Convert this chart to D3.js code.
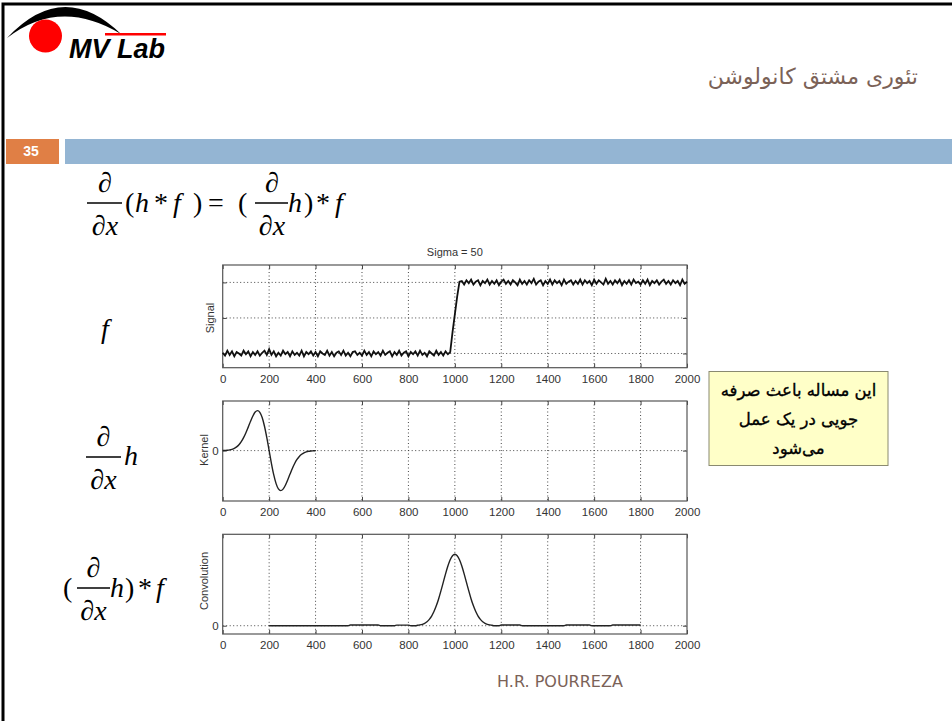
<!DOCTYPE html>
<html><head><meta charset="utf-8">
<script src="https://cdn.jsdelivr.net/npm/d3@7"></script>
<style>
html,body{margin:0;padding:0;background:#fff;}
svg{display:block;}
</style></head>
<body>
<svg id="c" width="952" height="721"></svg>
<script>
// ---------------- DATA ----------------
const xTicks = [0,200,400,600,800,1000,1200,1400,1600,1800,2000];
const chartTitle = "Sigma = 50";
const yLabels = ["Signal","Kernel","Convolution"];

// Signal f sampled every 10 units (0..2000): noisy step at ~1000
const signalValues = [
 0.01,-0.03,0.04,-0.02,0.03,-0.04,0.02,0.00,-0.03,0.04,
 -0.01,0.03,-0.04,0.02,-0.02,0.03,-0.03,0.01,0.04,-0.02,
 0.06,-0.02,0.03,-0.04,0.01,-0.03,0.04,-0.01,0.02,-0.04,
 0.03,-0.02,0.01,-0.03,0.04,-0.04,0.02,-0.01,0.03,-0.03,
 0.02,-0.04,0.03,0.00,-0.02,0.04,-0.03,0.02,-0.04,0.01,
 0.03,-0.02,0.04,-0.03,0.01,-0.04,0.02,0.03,-0.02,0.01,
 -0.03,0.04,-0.02,0.02,-0.04,0.03,-0.01,0.02,-0.03,0.04,
 -0.02,0.01,0.03,-0.04,0.02,-0.02,0.04,-0.03,0.01,0.03,
 -0.04,0.02,-0.01,0.03,-0.03,0.04,-0.02,0.01,-0.04,0.03,
 0.00,-0.03,0.04,-0.02,0.02,-0.03,0.03,-0.01,
 0.02,0.30,0.55,0.80,1.01,
 1.02,0.97,1.03,0.99,1.04,0.97,1.01,1.03,0.96,1.02,
 0.99,1.04,0.97,1.02,0.98,1.03,0.96,1.01,1.04,0.98,
 1.02,0.97,1.03,1.00,0.96,1.04,0.98,1.02,0.97,1.03,
 0.99,1.05,0.97,1.01,1.03,0.96,1.02,0.98,1.04,0.97,
 1.03,0.99,1.02,0.96,1.04,0.98,1.01,1.03,0.97,1.02,
 0.98,1.04,0.97,1.03,0.99,1.02,0.96,1.04,0.98,1.03,
 1.00,0.97,1.05,0.98,1.02,0.97,1.03,0.99,1.04,0.96,
 1.02,0.98,1.03,0.97,1.04,0.99,1.01,0.97,1.03,0.98,
 1.04,0.96,1.02,0.99,1.03,0.97,1.01,1.04,0.98,1.02,
 0.97,1.03,0.99,1.02,0.96,1.04,0.98,1.01
];
// Kernel d/dx h sampled every 10 units (0..400)
const kernelValues = [
 0.002,0.005,0.009,0.017,0.032,0.055,0.092,0.146,0.222,0.323,
 0.446,0.587,0.733,0.866,0.963,1.000,0.958,0.826,0.609,0.323,
 0,-0.323,-0.609,-0.826,-0.958,-1.000,-0.963,-0.866,-0.733,-0.587,
 -0.446,-0.323,-0.222,-0.146,-0.092,-0.055,-0.032,-0.017,-0.009,-0.005,-0.002
];
// Convolution (x, value) points, 200..1800
const convX = [200,540,550,670,680,740,750,800,810,830,
 840,850,860,870,880,890,900,910,920,930,940,950,960,970,980,990,
 1000,1010,1020,1030,1040,1050,1060,1070,1080,1090,1100,1110,1120,1130,1140,1150,1160,
 1170,1190,1200,1280,1290,1470,1480,1580,1590,1670,1680,1800];
const convY = [0,0,0.01,0.01,0,0,0.008,0.008,0,0,
 0.006,0.011,0.020,0.034,0.056,0.089,0.135,0.198,0.278,0.375,0.487,0.607,0.726,0.835,0.923,0.980,
 1.000,0.980,0.923,0.835,0.726,0.607,0.487,0.375,0.278,0.198,0.135,0.089,0.056,0.034,0.020,0.011,0.006,
 0,0,0.01,0.01,0,0,0.01,0.01,0,0,0.01,0.01];

const titleText = "تئوری مشتق کانولوشن";
const noteLines = ["این مساله باعث صرفه","جویی در یک عمل","می‌شود"];
const slideNumber = "35";
const footerText = "H.R. POURREZA";
const logoText = "MV Lab";

// ---------------- DRAW ----------------
const svg = d3.select("#c");

// slide frame
svg.append("rect").attr("x",3).attr("y",4).attr("width",952).attr("height",720)
  .attr("fill","none").attr("stroke","#000").attr("stroke-width",3);

// logo
const logo = svg.append("g");
logo.append("path").attr("d","M7,38 Q63,-22 121,34 Q60,-3 7,38 Z").attr("fill","#000");
logo.append("rect").attr("x",105).attr("y",33).attr("width",61).attr("height",2.5).attr("fill","#f00");
logo.append("circle").attr("cx",45.5).attr("cy",36).attr("r",16.5).attr("fill","#f00");
logo.append("text").attr("x",69).attr("y",58).text(logoText)
  .attr("font-family","Liberation Sans, Arial, sans-serif").attr("font-weight","bold")
  .attr("font-style","italic").attr("font-size",27).attr("fill","#000");

// title (Persian)
svg.append("text").attr("x",918).attr("y",84).attr("text-anchor","end")
  .attr("font-family","DejaVu Sans, sans-serif").attr("font-size",22)
  .attr("fill","#7b6257").text(titleText);

// slide number bar
svg.append("rect").attr("x",6).attr("y",139).attr("width",53).attr("height",25).attr("fill","#e07f45");
svg.append("rect").attr("x",65).attr("y",139).attr("width",887).attr("height",25).attr("fill","#94b5d3");
svg.append("text").attr("x",31).attr("y",156).attr("text-anchor","middle")
  .attr("font-family","Liberation Sans Narrow, Liberation Sans, sans-serif").attr("font-weight","bold")
  .attr("font-size",14).attr("fill","#fff").text(slideNumber);

// equations
const eqG = svg.append("g").attr("font-family","Liberation Serif, Times New Roman, serif")
  .attr("font-size",28).attr("fill","#000");
function glyph(t,x,y,it,anchor){
  eqG.append("text").attr("x",x).attr("y",y).attr("text-anchor",anchor||"start")
    .attr("font-style",it?"italic":"normal").text(t);
}
function frac(cx,x1,x2,ly){
  glyph("∂",cx,ly-11,false,"middle");
  eqG.append("line").attr("x1",x1).attr("x2",x2).attr("y1",ly).attr("y2",ly)
    .attr("stroke","#000").attr("stroke-width",1.4);
  const t = eqG.append("text").attr("x",cx).attr("y",ly+32).attr("text-anchor","middle");
  t.append("tspan").text("∂");
  t.append("tspan").attr("font-style","italic").text("x");
}
// top equation
frac(105,87,122,203);
glyph("(",125,212); glyph("h",135,212,true); glyph("*",154,212); glyph("f",173,212,true); glyph(")",193,212);
glyph("=",208,212); glyph("(",238,212);
frac(272,255,288,203);
glyph("h",288,212,true); glyph(")",304,212); glyph("*",316,212); glyph("f",335,212,true);
// f
glyph("f",101,338,true);
// d/dx h
frac(103.5,86,121,457);
glyph("h",124,465,true);
// (d/dx h)*f
glyph("(",63,597);
frac(93.5,77,110,588);
glyph("h",110,597,true); glyph(")",125,597); glyph("*",138,597); glyph("f",156,597,true);

// ---------------- CHARTS ----------------
const x = d3.scaleLinear().domain([0,2000]).range([222.7,687]);
const axFont = "Liberation Sans, Arial, sans-serif";

function chart(top,bottom,yDomain,yTicks,yTickLabels,label,labelX,labelY){
  const g = svg.append("g");
  const y = d3.scaleLinear().domain(yDomain).range([bottom,top]);
  // grid
  const grid = g.append("g").attr("stroke","#333").attr("stroke-width",0.9).attr("stroke-dasharray","1,2.5");
  xTicks.slice(1,-1).forEach(v=>{
    grid.append("line").attr("x1",x(v)).attr("x2",x(v)).attr("y1",top).attr("y2",bottom);
  });
  yTicks.forEach(v=>{
    grid.append("line").attr("x1",x.range()[0]).attr("x2",x.range()[1]).attr("y1",y(v)).attr("y2",y(v));
  });
  // axes
  const bAx = g.append("g").attr("transform",`translate(0,${bottom})`)
    .call(d3.axisBottom(x).tickValues(xTicks).tickSize(-4).tickPadding(7).tickFormat(d3.format("d")));
  const tAx = g.append("g").attr("transform",`translate(0,${top})`)
    .call(d3.axisTop(x).tickValues(xTicks).tickSize(-4).tickFormat(""));
  const lAx = g.append("g").attr("transform",`translate(${x.range()[0]},0)`)
    .call(d3.axisLeft(y).tickValues(yTicks).tickSize(-4).tickPadding(4).tickFormat((d,i)=>yTickLabels[i]));
  const rAx = g.append("g").attr("transform",`translate(${x.range()[1]},0)`)
    .call(d3.axisRight(y).tickValues(yTicks).tickSize(-4).tickFormat(""));
  [bAx,tAx,lAx,rAx].forEach(a=>{
    a.select(".domain").remove();
    a.selectAll(".tick line").attr("stroke","#444");
    a.selectAll("text").attr("font-family",axFont).attr("font-size",11.5).attr("fill","#333");
  });
  g.append("rect").attr("x",x.range()[0]).attr("y",top).attr("width",x.range()[1]-x.range()[0])
    .attr("height",bottom-top).attr("fill","none").attr("stroke","#555").attr("stroke-width",1.2);
  g.append("text").attr("transform",`translate(${labelX},${labelY}) rotate(-90)`).attr("text-anchor","middle")
    .attr("font-family",axFont).attr("font-size",11).attr("fill","#333").text(label);
  return {g,y};
}

// chart 1: signal
const c1 = chart(265,367.7,[-0.2,1.245],[0,0.5,1],["","",""],yLabels[0],214,318);
svg.append("text").attr("x",(x.range()[0]+x.range()[1])/2).attr("y",256).attr("text-anchor","middle")
  .attr("font-family",axFont).attr("font-size",11).attr("fill","#333").text(chartTitle);
const sigX = d3.range(0,2001,10);
c1.g.append("path").datum(signalValues)
  .attr("d",d3.line().x((d,i)=>x(sigX[i])).y(d=>c1.y(d)))
  .attr("fill","none").attr("stroke","#111").attr("stroke-width",1.8);

// chart 2: kernel
const c2 = chart(401,501,[-1.26,1.24],[0],["0"],yLabels[1],208,450);
const kerX = d3.range(0,401,10);
c2.g.append("path").datum(kernelValues)
  .attr("d",d3.line().x((d,i)=>x(kerX[i])).y(d=>c2.y(d)).curve(d3.curveMonotoneX))
  .attr("fill","none").attr("stroke","#222").attr("stroke-width",1.4);

// chart 3: convolution
const c3 = chart(534.3,634,[-0.116,1.28],[0],["0"],yLabels[2],208,581);
c3.g.append("path").datum(convY)
  .attr("d",d3.line().x((d,i)=>x(convX[i])).y(d=>c3.y(d)).curve(d3.curveMonotoneX))
  .attr("fill","none").attr("stroke","#222").attr("stroke-width",1.4);

// note box
svg.append("rect").attr("x",709).attr("y",371.5).attr("width",179).attr("height",94)
  .attr("fill","#ffffc8").attr("stroke","#8a8a70").attr("stroke-width",1);
noteLines.forEach((t,i)=>{
  svg.append("text").attr("x",798.5).attr("y",396+i*29).attr("text-anchor","middle")
    .attr("font-family","DejaVu Sans, sans-serif").attr("font-size",16.5)
    .attr("fill","#000").attr("stroke","#000").attr("stroke-width",0.35).text(t);
});

// footer
svg.append("text").attr("x",560).attr("y",687).attr("text-anchor","middle")
  .attr("font-family","DejaVu Sans, sans-serif").attr("font-size",16).attr("fill","#7b6257").text(footerText);
</script>
</body></html>
